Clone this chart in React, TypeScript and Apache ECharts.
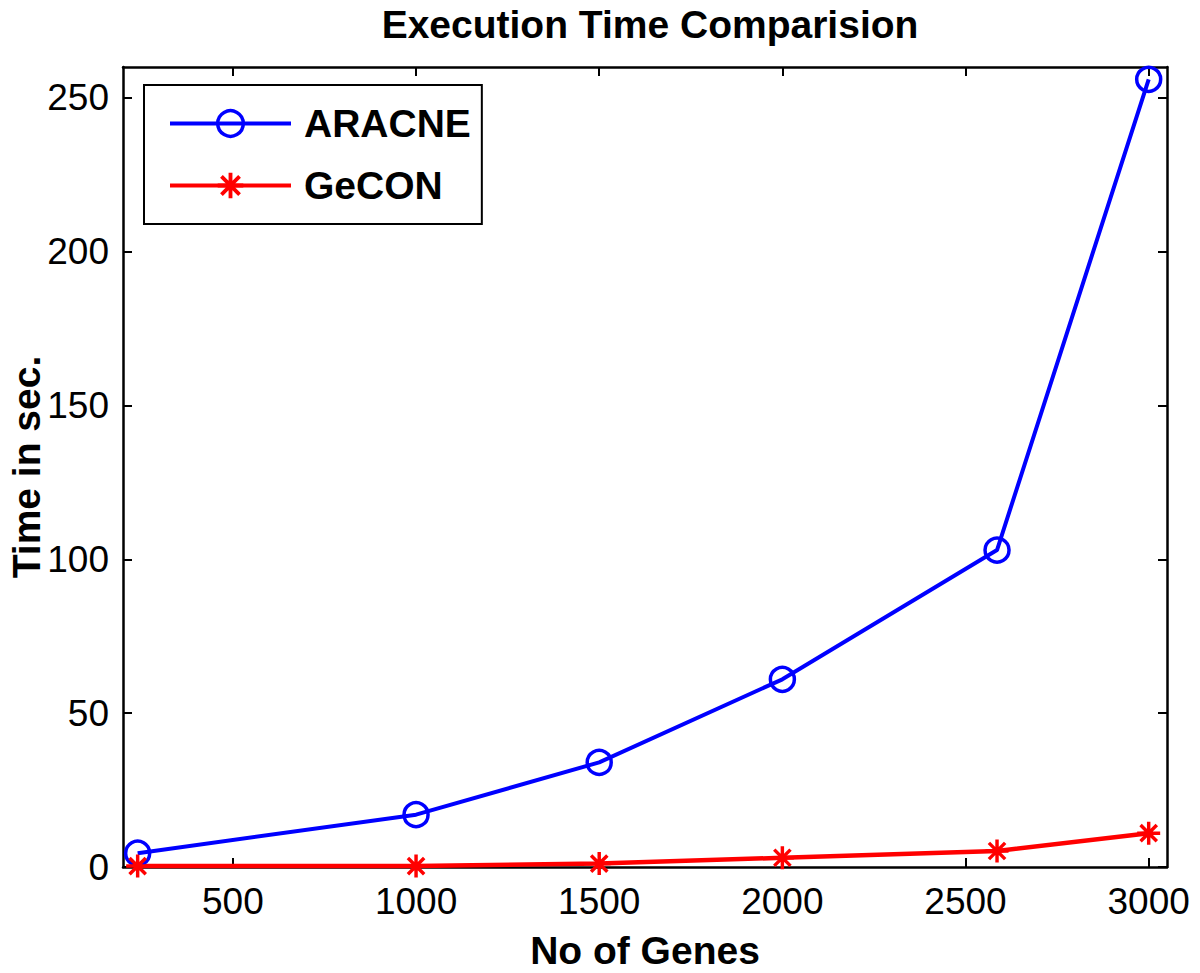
import React, { useEffect, useRef } from "react";
import * as echarts from "echarts";

const genes = [240, 1000, 1500, 2000, 2586, 3000];
const aracneTimes = [4.5, 17, 34, 61, 103, 256];
const geconTimes = [0.3, 0.3, 1.1, 3.0, 5.2, 11];
const xTicks = [500, 1000, 1500, 2000, 2500, 3000];
const yTicks = [0, 50, 100, 150, 200, 250];

const FONT = "'Liberation Sans', Arial, Helvetica, sans-serif";

// asterisk symbol made of four bars (vertical, horizontal, two diagonals)
const STAR =
  "path://M-1.5,-10L1.5,-10L1.5,10L-1.5,10Z" +
  "M-10,-1.5L10,-1.5L10,1.5L-10,1.5Z" +
  "M-6.01,-8.13L8.13,6.01L6.01,8.13L-8.13,-6.01Z" +
  "M6.01,-8.13L8.13,-6.01L-6.01,8.13L-8.13,6.01Z";

export default function App() {
  const ref = useRef<HTMLDivElement>(null);
  useEffect(() => {
    if (!ref.current) return;
    const chart = echarts.init(ref.current, undefined, { renderer: "svg" });
    const axisCommon = {
      type: "value" as const,
      axisLine: { show: true, onZero: false, lineStyle: { color: "#000", width: 2.5 } },
      axisTick: { show: true, inside: true, length: 9, lineStyle: { color: "#000", width: 2 } },
      splitLine: { show: false },
    };
    chart.setOption({
      animation: false,
      backgroundColor: "#fff",
      title: {
        text: "Execution Time Comparision",
        left: 645,
        textAlign: "center",
        top: 0,
        textStyle: { fontFamily: FONT, fontSize: 39, fontWeight: "bold", color: "#000" },
      },
      legend: {
        orient: "vertical",
        left: 144,
        top: 85,
        padding: [19, 11, 19, 24],
        itemWidth: 121,
        itemHeight: 32,
        itemGap: 23,
        borderColor: "#000",
        borderWidth: 2,
        backgroundColor: "#fff",
        lineStyle: { width: 4 },
        itemStyle: { borderWidth: 3.5 },
        textStyle: {
          fontFamily: FONT,
          fontSize: 39,
          fontWeight: "bold",
          color: "#000",
          padding: [0, 0, 0, 8],
        },
        data: ["ARACNE", "GeCON"],
      },
      grid: {
        left: 123,
        right: 33,
        top: 67,
        bottom: 106,
        containLabel: false,
        outerBoundsMode: "none",
      },
      xAxis: [
        {
          ...axisCommon,
          position: "bottom",
          min: 200,
          max: 3050,
          name: "No of Genes",
          nameLocation: "middle",
          nameGap: 64,
          nameMoveOverlap: false,
          nameTextStyle: { fontFamily: FONT, fontSize: 39, fontWeight: "bold", color: "#000" },
          axisTick: { ...axisCommon.axisTick, customValues: xTicks },
          axisLabel: {
            customValues: xTicks,
            formatter: (v: number) => String(v),
            fontFamily: FONT,
            fontSize: 37,
            color: "#000",
            margin: 16,
          },
        },
        {
          ...axisCommon,
          position: "top",
          min: 200,
          max: 3050,
          axisTick: { ...axisCommon.axisTick, customValues: xTicks },
          axisLabel: { show: false },
        },
      ],
      yAxis: [
        {
          ...axisCommon,
          position: "left",
          min: 0,
          max: 260,
          name: "Time in sec.",
          nameLocation: "middle",
          nameGap: 77,
          nameMoveOverlap: false,
          nameTextStyle: { fontFamily: FONT, fontSize: 39, fontWeight: "bold", color: "#000" },
          axisTick: { ...axisCommon.axisTick, customValues: yTicks },
          axisLabel: {
            customValues: yTicks,
            formatter: (v: number) => String(v),
            fontFamily: FONT,
            fontSize: 37,
            color: "#000",
            margin: 14,
          },
        },
        {
          ...axisCommon,
          position: "right",
          min: 0,
          max: 260,
          axisTick: { ...axisCommon.axisTick, customValues: yTicks },
          axisLabel: { show: false },
        },
      ],
      series: [
        {
          name: "ARACNE",
          type: "line",
          data: genes.map((g, i) => [g, aracneTimes[i]]),
          symbol: "circle",
          symbolSize: 24,
          showAllSymbol: true,
          lineStyle: { color: "#0000ff", width: 4 },
          itemStyle: { color: "rgba(0,0,0,0)", borderColor: "#0000ff", borderWidth: 3.5 },
          clip: false,
        },
        {
          name: "GeCON",
          type: "line",
          data: genes.map((g, i) => [g, geconTimes[i]]),
          symbol: STAR,
          symbolSize: 23,
          showAllSymbol: true,
          lineStyle: { color: "#ff0000", width: 4.5 },
          itemStyle: { color: "#ff0000", borderWidth: 0 },
          clip: false,
        },
      ],
    });
    return () => chart.dispose();
  }, []);
  return (
    <div
      ref={ref}
      style={{ position: "absolute", left: 0, top: 0, width: 1200, height: 973 }}
    />
  );
}
